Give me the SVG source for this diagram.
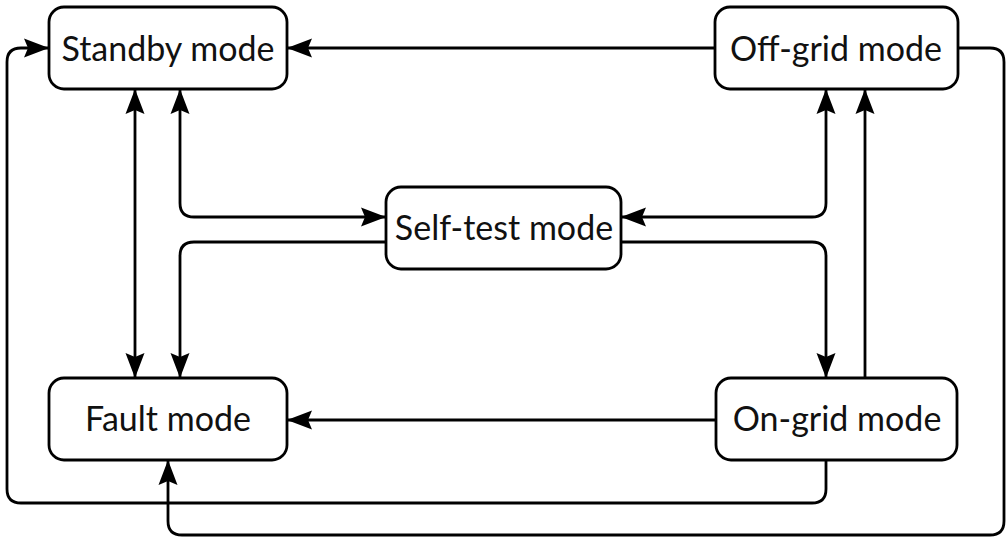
<svg xmlns="http://www.w3.org/2000/svg" width="1008" height="541" viewBox="0 0 1008 541">
<defs>
<marker id="arr" markerUnits="userSpaceOnUse" markerWidth="26" markerHeight="22" refX="25" refY="11" orient="auto-start-reverse" viewBox="0 0 26 22">
<path d="M0,1.5 L25,11 L0,20.5 L4,11 Z" fill="#000"/>
</marker>
<style>
.box{fill:#fff;stroke:#000;stroke-width:2.8}
.lbl{font-family:Lato,"Noto Sans",sans-serif;font-size:34px;fill:#111;text-anchor:middle}
.c{fill:none;stroke:#000;stroke-width:2.8}
</style>
</defs>
<rect width="1008" height="541" fill="#fff"/>
<g id="connectors">
<path class="c" d="M715,48 L287,48" marker-end="url(#arr)"/>
<path class="c" d="M958,48 L990,48 Q1004,48 1004,62 L1004,521 Q1004,535 990,535 L182,535 Q168,535 168,521 L168,460" marker-end="url(#arr)"/>
<path class="c" d="M826,460 L826,489 Q826,503 812,503 L21,503 Q7,503 7,489 L7,62 Q7,48 21,48 L49,48" marker-end="url(#arr)"/>
<path class="c" d="M716,420 L287,420" marker-end="url(#arr)"/>
<path class="c" d="M135,89 L135,378" marker-start="url(#arr)" marker-end="url(#arr)"/>
<path class="c" d="M180,89 L180,203 Q180,217 194,217 L386,217" marker-start="url(#arr)" marker-end="url(#arr)"/>
<path class="c" d="M386,242 L194,242 Q180,242 180,256 L180,378" marker-end="url(#arr)"/>
<path class="c" d="M826,89 L826,203 Q826,217 812,217 L621,217" marker-start="url(#arr)" marker-end="url(#arr)"/>
<path class="c" d="M621,242 L812,242 Q826,242 826,256 L826,378" marker-end="url(#arr)"/>
<path class="c" d="M865,378 L865,89" marker-end="url(#arr)"/>
</g>
<g id="standby"><rect class="box" x="49" y="7" width="238" height="82" rx="15"/><text class="lbl" x="168" y="61">Standby mode</text></g>
<g id="offgrid"><rect class="box" x="715" y="7" width="243" height="82" rx="15"/><text class="lbl" x="836" y="61">Off-grid mode</text></g>
<g id="selftest"><rect class="box" x="386" y="187" width="235" height="82" rx="15"/><text class="lbl" x="504" y="240">Self-test mode</text></g>
<g id="fault"><rect class="box" x="49" y="378" width="238" height="82" rx="15"/><text class="lbl" x="168" y="431">Fault mode</text></g>
<g id="ongrid"><rect class="box" x="716" y="378" width="241" height="82" rx="15"/><text class="lbl" x="837" y="431">On-grid mode</text></g>
</svg>
